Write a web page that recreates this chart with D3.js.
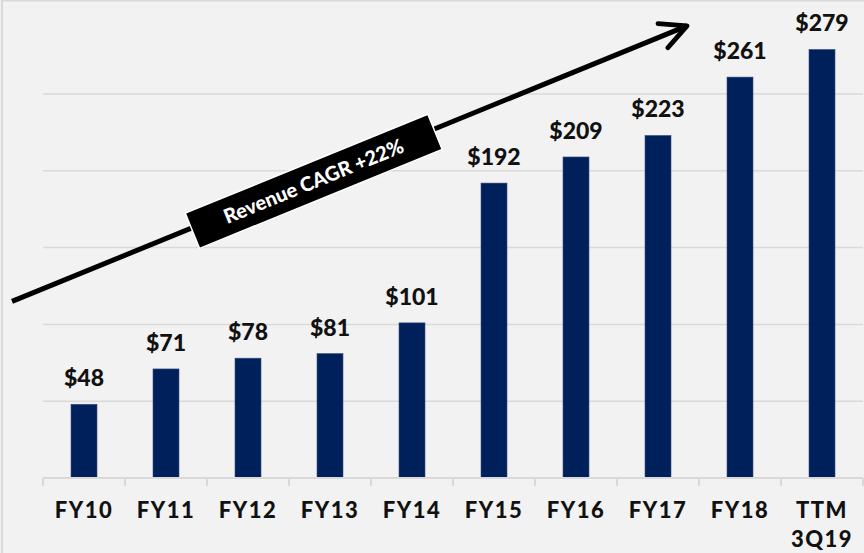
<!DOCTYPE html>
<html>
<head>
<meta charset="utf-8">
<script src="https://cdn.jsdelivr.net/npm/d3@7"></script>
<style>
  body { margin: 0; background: #f2f2f2; }
  svg { display: block; }
</style>
</head>
<body>
<svg id="chart"></svg>
<script>
// Revenue by year ($M)
const categories = ["FY10", "FY11", "FY12", "FY13", "FY14", "FY15", "FY16", "FY17", "FY18", "TTM\n3Q19"];
const revenue = [48, 71, 78, 81, 101, 192, 209, 223, 261, 279];
const gridValues = [0, 50, 100, 150, 200, 250];
const cagrLabel = "Revenue CAGR +22%";

const W = 864, H = 553;
const margin = { top: 18, right: 1, bottom: 75, left: 43 };
const width = W - margin.left - margin.right,
    height = H - margin.top - margin.bottom;

const svg = d3.select("#chart").attr("width", W).attr("height", H);

// fond + cadre
svg.append("rect")
    .attr("x", 2).attr("y", 0.5)
    .attr("width", W + 10).attr("height", H + 10)
    .attr("fill", "#f2f2f2")
    .attr("stroke", "#d9d9d9")
    .attr("stroke-width", 2);

const g = svg.append("g").attr("transform", `translate(${margin.left},${margin.top})`);

const x = d3.scaleBand()
    .domain(categories)
    .range([0, width])
    .paddingInner(0.683)
    .paddingOuter(0.3415);

const y = d3.scaleLinear()
    .domain([0, 300])
    .range([height, height - 300 * 1.536]);

const font = "Lato, 'Open Sans', sans-serif";

// grille
g.selectAll(".grid")
    .data(gridValues.slice(1))
    .enter()
    .append("line")
    .attr("x1", 0)
    .attr("x2", width)
    .attr("y1", d => y(d))
    .attr("y2", d => y(d))
    .attr("stroke", "#d9d9d9")
    .attr("stroke-width", 1.5);

// barres
g.selectAll(".bar")
    .data(revenue)
    .enter()
    .append("rect")
    .attr("x", (d, i) => x(categories[i]))
    .attr("y", d => y(d))
    .attr("width", x.bandwidth())
    .attr("height", d => y(0) - y(d))
    .attr("fill", "#00205b")
    .attr("stroke", "#3a4f80")
    .attr("stroke-width", 0.6);

// étiquettes de valeur
g.selectAll(".val")
    .data(revenue)
    .enter()
    .append("text")
    .attr("x", (d, i) => x(categories[i]) + x.bandwidth() / 2)
    .attr("y", d => y(d) - 18)
    .attr("text-anchor", "middle")
    .style("font-family", font)
    .style("font-weight", 900)
    .style("font-size", "23px")
    .style("fill", "#111")
    .text(d => "$" + d);

// axe x
const step = x.step();
const xAxis = g.append("g").attr("transform", `translate(0,${height})`);
xAxis.append("line")
    .attr("x1", 0).attr("x2", width)
    .attr("stroke", "#d9d9d9").attr("stroke-width", 2);
xAxis.selectAll(".tick")
    .data(d3.range(categories.length + 1))
    .enter()
    .append("line")
    .attr("x1", i => i * step)
    .attr("x2", i => i * step)
    .attr("y1", 0).attr("y2", 8)
    .attr("stroke", "#d9d9d9").attr("stroke-width", 2);

const labels = xAxis.selectAll(".lab")
    .data(categories)
    .enter()
    .append("text")
    .attr("x", d => x(d) + x.bandwidth() / 2)
    .attr("y", 40)
    .attr("text-anchor", "middle")
    .style("font-family", font)
    .style("font-weight", 900)
    .style("font-size", "22px")
    .style("letter-spacing", "1.5px")
    .style("fill", "#111");
labels.selectAll("tspan")
    .data(d => d.split("\n"))
    .enter()
    .append("tspan")
    .attr("x", function () { return this.parentNode.getAttribute("x"); })
    .attr("dy", (d, i) => i === 0 ? 0 : 29)
    .text(d => d);

// flèche CAGR
const x0 = 12 - margin.left, y0 = y(115);
const x1 = 690 - margin.left, y1 = y(295);
const angle = Math.atan2(y1 - y0, x1 - x0) * 180 / Math.PI;

svg.append("defs").append("marker")
    .attr("id", "head")
    .attr("viewBox", "0 0 10 10")
    .attr("refX", 9).attr("refY", 5)
    .attr("markerWidth", 6.5).attr("markerHeight", 6.5)
    .attr("markerUnits", "strokeWidth")
    .attr("orient", "auto")
    .append("path")
    .attr("d", "M1,1 L9,5 L1,9")
    .attr("fill", "none")
    .attr("stroke", "#000")
    .attr("stroke-width", 1.5)
    .attr("stroke-linecap", "round")
    .attr("stroke-linejoin", "round");

g.append("line")
    .attr("x1", x0).attr("y1", y0)
    .attr("x2", x1 - 3).attr("y2", y1 + 1)
    .attr("stroke", "#000")
    .attr("stroke-width", 5)
    .attr("marker-end", "url(#head)");

// boîte
const t = 0.445;
const cx = x0 + (x1 - x0) * t, cy = y0 + (y1 - y0) * t + 3;
const box = g.append("g").attr("transform", `translate(${cx},${cy}) rotate(${angle})`);
box.append("rect")
    .attr("x", -131).attr("y", -19)
    .attr("width", 262).attr("height", 38)
    .attr("fill", "#000")
    .attr("stroke", "#fff")
    .attr("stroke-width", 1.5);
box.append("text")
    .attr("x", 0).attr("y", 7)
    .attr("text-anchor", "middle")
    .style("font-family", font)
    .style("font-weight", 900)
    .style("font-size", "20px")
    .style("fill", "#fff")
    .text(cagrLabel);
</script>
</body>
</html>
